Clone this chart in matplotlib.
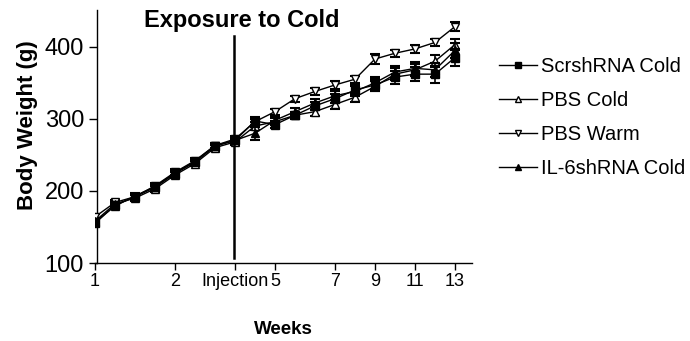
import matplotlib
matplotlib.use("Agg")
import matplotlib.pyplot as plt
from matplotlib.lines import Line2D

plt.rcParams['font.family'] = ['Liberation Sans', 'DejaVu Sans']

# x positions are measurement indices (0..18)
idx = list(range(19))
tick_pos = [0, 4, 7, 9, 12, 14, 16, 18]
tick_labels = ["1", "2", "Injection", "5", "7", "9", "11", "13"]

scr_cold = [155, 180, 192, 205, 224, 240, 262, 270, 297, 292, 305, 318, 328, 340, 347, 358, 362, 362, 385]
scr_err  = [4, 4, 4, 4, 4, 4, 4, 4, 5, 5, 5, 6, 6, 7, 8, 9, 10, 12, 12]
pbs_cold = [158, 182, 190, 203, 222, 238, 260, 268, 290, 296, 305, 310, 320, 330, 345, 362, 368, 380, 403]
pbs_cold_err = [4, 4, 4, 4, 4, 4, 4, 4, 5, 5, 5, 6, 6, 6, 7, 8, 8, 8, 8]
pbs_warm = [164, 184, 192, 207, 226, 242, 263, 272, 296, 310, 328, 338, 347, 355, 383, 391, 397, 406, 428]
pbs_warm_err = [4, 4, 4, 4, 4, 4, 4, 4, 4, 4, 4, 5, 5, 5, 7, 5, 5, 5, 6]
il6_cold = [157, 179, 193, 206, 225, 241, 263, 270, 280, 298, 310, 322, 332, 338, 350, 365, 370, 368, 395]
il6_err  = [4, 4, 4, 4, 4, 4, 4, 4, 9, 5, 5, 6, 6, 7, 8, 8, 9, 10, 10]

legend_labels = ['ScrshRNA Cold', 'PBS Cold', 'PBS Warm', 'IL-6shRNA Cold']

injection_x = 6.95
injection_y = [107, 415]

fig = plt.figure(figsize=(6.9, 3.41), dpi=100)
ax = fig.add_axes([95/690, 1-263/341, (472-95)/690, (263-10)/341])

kw = dict(color='black', lw=1.0, capsize=3.5, elinewidth=1.2, capthick=1.5, markersize=6)
ax.errorbar(idx, pbs_warm, yerr=pbs_warm_err, marker='v', mfc='white', mec='black', zorder=3, **kw)
ax.errorbar(idx, pbs_cold, yerr=pbs_cold_err, marker='^', mfc='white', mec='black', zorder=3, **kw)
ax.errorbar(idx, il6_cold, yerr=il6_err, marker='^', mfc='black', mec='black', zorder=4, **kw)
ax.errorbar(idx, scr_cold, yerr=scr_err, marker='s', mfc='black', mec='black', zorder=5, **kw)

ax.plot([injection_x, injection_x], injection_y, color='black', lw=1.8, zorder=6)

ax.set_xlim(0, 18.85)
ax.set_ylim(100, 451)
ax.set_xticks(tick_pos)
ax.set_xticklabels(tick_labels, fontsize=13)
ax.set_yticks([100, 200, 300, 400])
ax.tick_params(axis='y', labelsize=17, direction='out', length=6, width=1, pad=3)
ax.tick_params(axis='x', direction='out', length=5, width=1, pad=2)
for s in ['top', 'right']:
    ax.spines[s].set_visible(False)
ax.spines['left'].set_position(('data', 0.08))
ax.spines['left'].set_linewidth(1)
ax.spines['bottom'].set_linewidth(1)

fig.text(28/690, 1-125/341, 'Body Weight (g)', rotation=90, ha='center', va='center',
         fontsize=16, fontweight='bold')
fig.text(283/690, 1-329/341, 'Weeks', ha='center', va='center', fontsize=13.5, fontweight='bold')
fig.text(242/690, 1-20/341, 'Exposure to Cold', ha='center', va='center', fontsize=17, fontweight='bold')

leg_handles = [
    Line2D([], [], color='black', lw=1, marker='s', mfc='black', mec='black', markersize=5),
    Line2D([], [], color='black', lw=1, marker='^', mfc='white', mec='black', markersize=5),
    Line2D([], [], color='black', lw=1, marker='v', mfc='white', mec='black', markersize=5),
    Line2D([], [], color='black', lw=1, marker='^', mfc='black', mec='black', markersize=5),
]
fig.legend(leg_handles, legend_labels, loc='upper left', bbox_to_anchor=(499/690, 1-57/341),
           frameon=False, fontsize=14.5, handlelength=1.9, handletextpad=0.2,
           labelspacing=0.75, borderaxespad=0, borderpad=0)

fig.savefig('out.png', dpi=100)
